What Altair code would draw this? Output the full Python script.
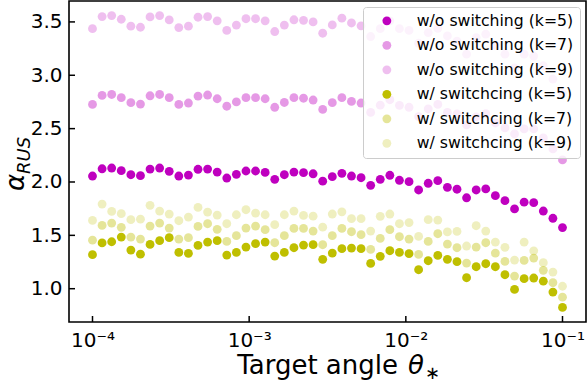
import numpy as np
import pandas as pd
import altair as alt

# Target angles: 50 log-spaced samples between 1e-4 and 1e-1
theta = np.logspace(-4, -1, 50)

wo_k5 = [2.056, 2.124, 2.131, 2.106, 2.068, 2.059, 2.121, 2.131, 2.100, 2.056,
         2.065, 2.119, 2.121, 2.093, 2.037, 2.072, 2.103, 2.103, 2.090, 2.025,
         2.068, 2.093, 2.087, 2.077, 2.008, 2.050, 2.081, 2.056, 2.040, 1.969,
         2.025, 2.063, 2.016, 2.003, 1.925, 1.988, 2.012, 1.950, 1.932, 1.852,
         1.925, 1.935, 1.872, 1.825, 1.748, 1.811, 1.806, 1.728, 1.660, 1.573]
wo_k7 = [2.727, 2.811, 2.820, 2.790, 2.743, 2.730, 2.808, 2.820, 2.790, 2.727,
         2.740, 2.805, 2.815, 2.780, 2.710, 2.750, 2.790, 2.790, 2.780, 2.700,
         2.745, 2.790, 2.785, 2.768, 2.680, 2.743, 2.790, 2.755, 2.740, 2.652,
         2.720, 2.771, 2.718, 2.700, 2.612, 2.684, 2.727, 2.652, 2.637, 2.535,
         2.610, 2.640, 2.553, 2.507, 2.450, 2.497, 2.497, 2.413, 2.310, 2.207]
wo_k9 = [3.437, 3.550, 3.559, 3.525, 3.460, 3.450, 3.547, 3.559, 3.519, 3.447,
         3.460, 3.544, 3.550, 3.510, 3.420, 3.470, 3.530, 3.530, 3.510, 3.410,
         3.470, 3.520, 3.515, 3.500, 3.394, 3.472, 3.535, 3.490, 3.463, 3.363,
         3.437, 3.510, 3.437, 3.420, 3.300, 3.400, 3.440, 3.369, 3.320, 3.198,
         3.353, 3.385, 3.280, 3.198, 3.070, 3.198, 3.180, 3.089, 2.965, 2.830]
w_k5 = [1.319, 1.429, 1.440, 1.484, 1.362, 1.324, 1.415, 1.450, 1.478, 1.340,
        1.331, 1.406, 1.437, 1.450, 1.315, 1.340, 1.390, 1.422, 1.437, 1.306,
        1.340, 1.384, 1.409, 1.413, 1.275, 1.334, 1.375, 1.381, 1.375, 1.237,
        1.303, 1.356, 1.340, 1.328, 1.178, 1.262, 1.312, 1.275, 1.253, 1.103,
        1.206, 1.234, 1.206, 1.131, 0.993, 1.094, 1.100, 1.071, 0.968, 0.825]
w_k7 = [1.455, 1.593, 1.615, 1.575, 1.484, 1.465, 1.587, 1.615, 1.568, 1.465,
        1.478, 1.584, 1.609, 1.556, 1.443, 1.497, 1.568, 1.587, 1.553, 1.431,
        1.497, 1.565, 1.565, 1.540, 1.412, 1.497, 1.565, 1.534, 1.506, 1.368,
        1.471, 1.553, 1.487, 1.465, 1.321, 1.443, 1.515, 1.418, 1.384, 1.240,
        1.390, 1.431, 1.334, 1.256, 1.118, 1.265, 1.287, 1.172, 1.056, 0.921]
w_k9 = [1.640, 1.793, 1.724, 1.703, 1.647, 1.652, 1.781, 1.727, 1.699, 1.637,
        1.671, 1.762, 1.718, 1.690, 1.609, 1.693, 1.740, 1.709, 1.693, 1.600,
        1.693, 1.727, 1.687, 1.680, 1.577, 1.700, 1.720, 1.656, 1.656, 1.540,
        1.678, 1.700, 1.609, 1.620, 1.490, 1.647, 1.643, 1.532, 1.537, 1.400,
        1.590, 1.540, 1.437, 1.388, 1.268, 1.437, 1.355, 1.244, 1.156, 1.023]

labels = ["w/o switching (k=5)", "w/o switching (k=7)", "w/o switching (k=9)",
          "w/ switchcing (k=5)", "w/ switchcing (k=7)", "w/ switchcing (k=9)"]
# magenta / olive with decreasing alpha for larger k
colors = ["rgba(191,0,191,1)", "rgba(191,0,191,0.4)", "rgba(191,0,191,0.25)",
          "rgba(191,191,0,1)", "rgba(191,191,0,0.4)", "rgba(191,191,0,0.25)"]

x_ticks = [1e-4, 1e-3, 1e-2, 1e-1]
y_ticks = [1.0, 1.5, 2.0, 2.5, 3.0, 3.5]

W, H = 517, 321
FONT = "DejaVu Sans"

df = pd.DataFrame({
    "theta": np.tile(theta, len(labels)),
    "alpha": np.concatenate([wo_k5, wo_k7, wo_k9, w_k5, w_k7, w_k9]),
    "series": np.repeat(labels, len(theta)),
})

x_scale = alt.Scale(type="log", domain=[10 ** -4.15, 10 ** -0.85], nice=False)
y_scale = alt.Scale(domain=[0.688, 3.696], nice=False, zero=False)

legend = alt.Legend(
    title=None, orient="top-right", offset=6,
    labelFont=FONT, labelFontSize=15.7, labelColor="black", labelLimit=400,
    symbolType="circle", symbolSize=78, symbolStrokeWidth=0, symbolOpacity=1,
    symbolOffset=10, labelOffset=22, rowPadding=7.5, padding=6,
    fillColor="rgba(255,255,255,0.8)", strokeColor="#cccccc", cornerRadius=3,
)

sup = ("datum.value < 0.0005 ? '10⁻⁴' : datum.value < 0.005 ? '10⁻³' : "
       "datum.value < 0.05 ? '10⁻²' : '10⁻¹'")

x_axis = alt.Axis(values=x_ticks, labelExpr=sup, title=None, ticks=False,
                  domain=False, grid=False, labelFont=FONT, labelFontSize=20,
                  labelColor="black", labelPadding=8, labelFlush=False)
y_axis = alt.Axis(values=y_ticks, format=".1f", title=None, ticks=False,
                  domain=False, grid=False, labelFont=FONT, labelFontSize=20,
                  labelColor="black", labelPadding=7)

points = alt.Chart(df).mark_circle(size=78, opacity=1).encode(
    x=alt.X("theta:Q", scale=x_scale, axis=x_axis),
    y=alt.Y("alpha:Q", scale=y_scale, axis=y_axis),
    color=alt.Color("series:N", scale=alt.Scale(domain=labels, range=colors), legend=legend),
)

# inward-pointing major ticks
xt = alt.Chart(pd.DataFrame({"theta": x_ticks})).mark_rule(color="black", strokeWidth=1.5).encode(
    x=alt.X("theta:Q", scale=x_scale, axis=x_axis),
    y=alt.value(H - 6), y2=alt.value(H),
)
yt = alt.Chart(pd.DataFrame({"alpha": y_ticks})).mark_rule(color="black", strokeWidth=1.5).encode(
    y=alt.Y("alpha:Q", scale=y_scale, axis=y_axis),
    x=alt.value(0), x2=alt.value(6),
)

def label(text, x, y, size, angle=0, style="normal", align="left"):
    return alt.Chart(pd.DataFrame({"t": [text]})).mark_text(
        font=FONT, fontSize=size, fontStyle=style, color="black",
        align=align, baseline="alphabetic", angle=angle,
    ).encode(text="t:N", x=alt.value(x), y=alt.value(y))

titles = [
    label("Target angle", 329, 373, 26, align="right"),
    label("θ", 339, 373, 26, style="italic"),
    label("∗", 356, 378, 18),
    label("α", -45, 190, 26, angle=270, style="italic"),
    label("RUS", -39, 173, 18, angle=270, style="italic"),
]

chart = alt.layer(points, xt, yt, *titles).properties(
    width=W, height=H,
    padding={"left": 69, "top": 1, "right": 1, "bottom": 62},
    autosize=alt.AutoSizeParams(type="none"),
).configure_view(stroke="black", strokeWidth=1.6)

chart.save("out.html", embed_options={"renderer": "svg", "actions": False})
